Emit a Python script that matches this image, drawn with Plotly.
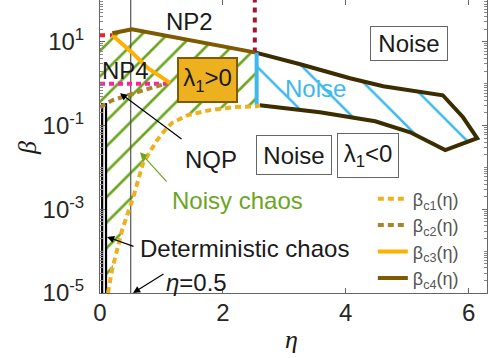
import plotly.graph_objects as go

# ---- data ----
bc1_eta = [0.13, 0.195, 0.36, 0.54, 0.70, 0.93, 1.06, 1.17, 1.43, 1.79, 2.17, 2.56, 2.60]
bc1_beta = [1.0e-5, 3.5e-5, 3.2e-4, 1.9e-3, 1.26e-2, 4.5e-2, 7.8e-2, 0.115, 0.178, 0.234, 0.275, 0.29, 0.31]

bc2_eta = [0.0, 0.2, 0.65, 1.1]
bc2_beta = [0.275, 0.40, 0.66, 1.03]

bc3_eta = [0.2, 0.52, 0.78, 1.14]
bc3_beta = [14.4, 5.6, 2.35, 1.05]

bc4_eta = [0.2, 0.52, 2.52]
bc4_beta = [16.0, 20.0, 5.6]

np2_eta = [0.0, 0.2]
np2_beta = [14.4, 14.4]

np4_eta = [0.0, 1.1]
np4_beta = [1.0, 1.0]

vert_red_eta = [2.52, 2.52]
vert_red_beta = [5.6, 100.0]

blue_eta = [2.55, 2.55]
blue_beta = [0.30, 5.6]

noise_eta = [2.52, 3.26, 4.07, 4.61, 5.58, 5.91, 6.14, 5.62, 5.05, 4.48, 3.58, 2.60]
noise_beta = [5.6, 2.92, 1.35, 0.87, 0.53, 0.158, 0.050, 0.026, 0.069, 0.127, 0.209, 0.307]

det_eta = [0.035, 0.098]
det_beta = [1.0e-5, 0.343]

eta_half = [0.5, 0.5]
eta_half_beta = [1.0e-5, 100.0]

x_ticks = [0, 2, 4, 6]
y_ticks = [1e-5, 1e-3, 1e-1, 1e1]
y_ticktext = ["10<sup>-5</sup>", "10<sup>-3</sup>", "10<sup>-1</sup>", "10<sup>1</sup>"]

# ---- colours ----
C1 = "#EDB120"
C2 = "#A8862E"
C3 = "#FFB000"
C4 = "#7E5A00"
DARK = "#3C2D00"
GREEN = "#6CA61F"
BLUE = "#3DB8EC"

fig = go.Figure()

# green hatched region (chaos)
g_eta = [det_eta[1], det_eta[1], 0.0, 0.0] + bc4_eta + [blue_eta[0]] + bc1_eta[::-1]
g_beta = [det_beta[0], 0.30, 0.30, np2_beta[0]] + bc4_beta + [blue_beta[0]] + bc1_beta[::-1]
fig.add_trace(go.Scatter(x=g_eta, y=g_beta, mode="none", fill="toself",
                         fillcolor="rgba(0,0,0,0)",
                         fillpattern=dict(shape="/", fgcolor=GREEN, bgcolor="rgba(0,0,0,0)",
                                          size=18, solidity=0.15, fgopacity=1),
                         showlegend=False, hoverinfo="skip"))

# blue hatched noise region
b_eta = noise_eta + [blue_eta[0]]
b_beta = noise_beta + [blue_beta[0]]
fig.add_trace(go.Scatter(x=b_eta, y=b_beta, mode="none", fill="toself",
                         fillcolor="rgba(0,0,0,0)",
                         fillpattern=dict(shape="\\", fgcolor=BLUE, bgcolor="rgba(0,0,0,0)",
                                          size=32, solidity=0.08, fgopacity=1),
                         showlegend=False, hoverinfo="skip"))

def line(x, y, color, width, dash="solid", name=None, legend=False):
    fig.add_trace(go.Scatter(x=x, y=y, mode="lines", name=name,
                             legendgroup=name if legend else None,
                             line=dict(color=color, width=width, dash=dash),
                             showlegend=legend, hoverinfo="skip"))

line(eta_half, eta_half_beta, "#555555", 1.2)
line(det_eta[:1] * 2, det_beta, "black", 2.2)
line(det_eta[1:] * 2, det_beta, "black", 2.2)
line(noise_eta, noise_beta, DARK, 4)
line(blue_eta, blue_beta, BLUE, 4)
line(vert_red_eta, vert_red_beta, "#A2142F", 4, dash="5px,5px")
line(np2_eta, np2_beta, "#E8252A", 4, dash="5px,5px")
line(np4_eta, np4_beta, "#FF1FA0", 4, dash="5px,4px")

line(bc1_eta, bc1_beta, C1, 4, dash="6px,4px", name="β<sub>c1</sub>(η)", legend=True)
line(bc2_eta, bc2_beta, C2, 4, dash="6px,4px", name="β<sub>c2</sub>(η)", legend=True)
line(bc3_eta, bc3_beta, C3, 4, name="β<sub>c3</sub>(η)", legend=True)
line(bc4_eta, bc4_beta, C4, 4, name="β<sub>c4</sub>(η)", legend=True)

F = "Liberation Sans, Arial, sans-serif"
TXT = "#1a1a1a"

def text(x, ly, s, color=TXT, size=24, **kw):
    fig.add_annotation(x=x, y=ly, xref="x", yref="y", text=s, showarrow=False,
                       xanchor="center", yanchor="middle",
                       font=dict(family=F, size=size, color=color), **kw)

def arrow(x, ly, ax, ay, color="black"):
    fig.add_annotation(x=x, y=ly, xref="x", yref="y", text="", showarrow=True,
                       ax=ax, ay=ay, arrowhead=2, arrowsize=1.2, arrowwidth=1.2,
                       arrowcolor=color)

text(1.465, 1.49, "NP2")
text(0.407, 0.32, "NP4")
text(1.75, 0.084, "λ<sub>1</sub>&gt;0", bgcolor=C1, bordercolor=C4, borderwidth=2,
     width=55, height=40)
text(5.03, 0.955, "Noise", bgcolor="white", bordercolor="#666666", borderwidth=1,
     width=74, height=31)
text(3.516, -0.107, "Noise", color=BLUE)
text(3.15, -1.706, "Noise", bgcolor="white", bordercolor="#666666", borderwidth=1,
     width=72, height=36)
text(4.37, -1.72, "λ<sub>1</sub>&lt;0", bgcolor="white", bordercolor="#666666", borderwidth=1,
     width=58, height=41)
text(1.807, -1.80, "NQP")
text(2.246, -2.78, "Noisy chaos", color=GREEN)
text(2.36, -3.93, "Deterministic chaos")
text(1.563, -4.74, "<i>η</i>=0.5")

arrow(0.326, -0.227, 63, 47)
arrow(0.651, -1.635, 28, 31, color=GREEN)
arrow(0.114, -3.66, 28, 10)
arrow(0.537, -5.0, 32, -20)

# axis titles
fig.add_annotation(x=-0.186, y=0.495, xref="paper", yref="paper", text="<i>β</i>",
                   showarrow=False, textangle=-90, xanchor="center", yanchor="middle",
                   font=dict(family="Liberation Serif, serif", size=26, color=TXT))
fig.add_annotation(x=0.496, y=-0.16, xref="paper", yref="paper", text="<i>η</i>",
                   showarrow=False, xanchor="center", yanchor="middle",
                   font=dict(family="Liberation Serif, serif", size=26, color=TXT))

minor_vals = []
for e in range(-5, 2):
    for m in range(1, 10):
        minor_vals.append(m * 10.0 ** e)

axis_common = dict(showline=True, linecolor="#666666", linewidth=1, mirror="ticks",
                   ticks="inside", ticklen=5, tickcolor="#666666", showgrid=False,
                   zeroline=False, tickfont=dict(family=F, size=24, color="#262626"))

fig.update_xaxes(range=[0, 6.3], tickvals=x_ticks, ticktext=[str(v) for v in x_ticks],
                 ticklabelstandoff=-2, **axis_common)
fig.update_yaxes(type="log", range=[-5, 2], tickvals=y_ticks, ticktext=y_ticktext,
                 ticklabelstandoff=10,
                 minor=dict(tickvals=minor_vals, ticks="inside", ticklen=3,
                            tickcolor="#888888"),
                 **axis_common)

fig.update_layout(width=490, height=358, margin=dict(l=100, r=3, t=0, b=65),
                  paper_bgcolor="white", plot_bgcolor="white",
                  showlegend=True,
                  legend=dict(x=0.705, y=-0.012, xanchor="left", yanchor="bottom",
                              bgcolor="rgba(0,0,0,0)", borderwidth=0,
                              font=dict(family=F, size=18, color="#555555"),
                              tracegroupgap=0))

fig.write_html("out.html", config={"displayModeBar": False},
               post_script="document.body.style.margin='0';")
